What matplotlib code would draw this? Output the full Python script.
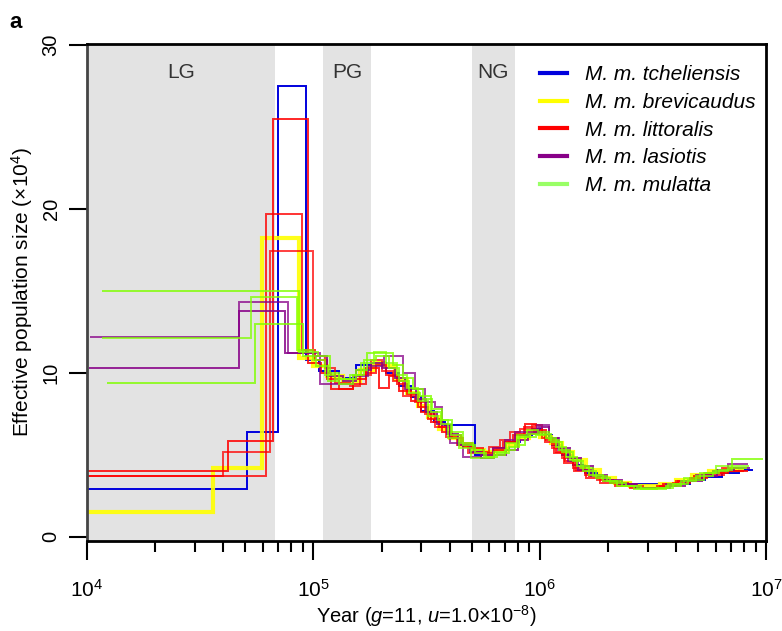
import matplotlib
matplotlib.use("Agg")
from matplotlib import pyplot as plt
from matplotlib.lines import Line2D
from matplotlib.ticker import LogLocator, NullFormatter
import numpy as np

plt.rcParams['font.family'] = ['Liberation Sans', 'DejaVu Sans']
plt.rcParams['mathtext.fontset'] = 'custom'
plt.rcParams['mathtext.rm'] = 'Liberation Sans'
plt.rcParams['mathtext.it'] = 'Liberation Sans:italic'

# PSMC step curves: edges (years) and Ne (x10^4) per interval
bl_t = [5e3, 5.1e4, 7.0e4, 9.3e4, 1.06e5, 1.3e5, 1.55e5, 1.85e5, 2.1e5, 2.4e5,
        2.7e5, 3.0e5, 3.4e5, 3.8e5, 5.2e5, 5.8e5, 6.5e5, 7.3e5, 8.2e5, 9.2e5,
        1.02e6, 1.13e6, 1.26e6, 1.4e6, 1.58e6, 1.8e6, 2.05e6, 2.4e6, 2.8e6, 3.3e6,
        3.9e6, 4.6e6, 5.4e6, 6.4e6, 7.6e6, 8.8e6]
bl_ne = [2.9, 6.4, 27.5, 10.8, 10.1, 9.7, 10.5, 10.6, 10.0, 9.2,
         8.5, 7.7, 7.0, 6.8, 5.0, 5.2, 5.4, 5.8, 6.2, 6.6,
         6.2, 5.6, 5.0, 4.4, 3.9, 3.6, 3.3, 3.25, 3.2, 3.1,
         3.2, 3.5, 3.65, 3.9, 4.1]

ye_t = [5e3, 3.6e4, 5.9e4, 8.6e4, 1.0e5, 1.15e5, 1.35e5, 1.6e5, 1.85e5, 2.05e5,
        2.3e5, 2.6e5, 2.9e5, 3.2e5, 3.6e5, 4.0e5, 4.5e5, 5.0e5, 5.7e5, 6.4e5,
        7.2e5, 8.0e5, 9.0e5, 1.0e6, 1.12e6, 1.25e6, 1.4e6, 1.6e6, 1.85e6, 2.15e6,
        2.5e6, 2.9e6, 3.4e6, 4.0e6, 4.7e6, 5.6e6, 6.6e6, 8.0e6]
ye_ne = [1.5, 4.2, 18.2, 10.9, 10.4, 9.8, 9.5, 10.2, 10.6, 10.4,
         9.6, 8.8, 8.0, 7.3, 6.6, 6.0, 5.6, 5.3, 5.2, 5.3,
         5.6, 6.0, 6.4, 6.1, 5.7, 5.2, 4.7, 4.1, 3.6, 3.3,
         3.1, 3.1, 3.2, 3.5, 3.8, 4.0, 4.1]

ra_t = [5e3, 4.2e4, 6.6e4, 9.5e4, 1.08e5, 1.2e5, 1.5e5, 1.7e5, 1.95e5, 2.15e5,
        2.4e5, 2.7e5, 3.0e5, 3.3e5, 3.7e5, 4.1e5, 4.6e5, 5.1e5, 5.7e5, 6.3e5,
        7.0e5, 7.8e5, 8.6e5, 9.6e5, 1.07e6, 1.18e6, 1.3e6, 1.45e6, 1.65e6, 1.9e6,
        2.2e6, 2.6e6, 3.0e6, 3.5e6, 4.1e6, 4.8e6, 5.7e6, 6.8e6, 8.3e6]
ra_ne = [4.0, 5.85, 25.5, 10.6, 10.0, 9.0, 9.6, 10.3, 9.1, 9.8,
         8.9, 8.3, 7.6, 7.0, 6.4, 6.0, 5.5, 5.2, 5.0, 5.3,
         5.8, 6.3, 6.9, 6.5, 5.9, 5.2, 4.6, 4.1, 3.7, 3.4,
         3.2, 3.0, 3.0, 3.2, 3.4, 3.7, 3.9, 4.0]

rb_t = [5e3, 4.0e4, 6.4e4, 1.0e5, 1.12e5, 1.25e5, 1.45e5, 1.6e5, 1.8e5, 2.0e5,
        2.25e5, 2.5e5, 2.8e5, 3.1e5, 3.45e5, 3.85e5, 4.3e5, 4.8e5, 5.4e5, 6.0e5,
        6.7e5, 7.4e5, 8.2e5, 9.2e5, 1.02e6, 1.13e6, 1.25e6, 1.4e6, 1.58e6, 1.8e6,
        2.1e6, 2.45e6, 2.85e6, 3.3e6, 3.9e6, 4.6e6, 5.4e6, 6.4e6, 7.6e6]
rb_ne = [3.7, 5.2, 17.4, 11.0, 10.3, 9.4, 9.2, 9.9, 10.8, 10.1,
         9.5, 8.6, 8.2, 7.5, 6.7, 6.1, 5.6, 5.1, 5.2, 5.5,
         5.9, 6.4, 6.6, 6.8, 6.0, 5.4, 4.8, 4.2, 3.8, 3.5,
         3.3, 3.1, 3.0, 3.1, 3.3, 3.6, 3.9, 4.2]

rc_t = [5e3, 6.2e4, 8.9e4, 1.02e5, 1.15e5, 1.3e5, 1.5e5, 1.7e5, 1.9e5, 2.1e5,
        2.35e5, 2.6e5, 2.9e5, 3.2e5, 3.6e5, 4.0e5, 4.5e5, 5.0e5, 5.6e5, 6.2e5,
        6.9e5, 7.6e5, 8.5e5, 9.4e5, 1.05e6, 1.16e6, 1.28e6, 1.42e6, 1.6e6, 1.85e6,
        2.15e6, 2.5e6, 2.9e6, 3.4e6, 4.0e6, 4.7e6, 5.5e6, 6.5e6, 8.0e6]
rc_ne = [3.7, 19.7, 11.4, 10.8, 9.6, 9.0, 9.3, 10.0, 10.5, 9.9,
         9.3, 8.7, 7.9, 7.2, 6.7, 6.2, 5.7, 5.4, 5.1, 5.4,
         5.8, 6.2, 6.7, 6.4, 5.8, 5.1, 4.5, 4.0, 3.6, 3.3,
         3.1, 3.0, 3.0, 3.1, 3.4, 3.6, 3.8, 4.0]

pa_t = [1.03e4, 4.7e4, 7.7e4, 1.07e5, 1.5e5, 1.75e5, 2.05e5, 2.5e5, 2.8e5, 3.1e5,
        3.45e5, 3.7e5, 4.0e5, 4.6e5, 5.5e5, 6.2e5, 7.0e5, 7.8e5, 8.7e5, 9.7e5,
        1.1e6, 1.2e6, 1.33e6, 1.48e6, 1.68e6, 1.95e6, 2.25e6, 2.65e6, 3.1e6, 3.6e6,
        4.2e6, 4.9e6, 5.8e6, 6.8e6, 8.3e6]
pa_ne = [12.2, 14.3, 11.2, 9.3, 9.8, 10.4, 11.0, 10.0, 9.0, 8.2,
         7.9, 6.8, 5.7, 4.9, 5.0, 5.4, 5.9, 6.4, 6.4, 6.8,
         6.0, 5.3, 4.6, 4.1, 3.7, 3.4, 3.2, 3.0, 3.0, 3.2,
         3.4, 3.8, 4.0, 4.45]

pb_t = [1.02e4, 4.7e4, 7.5e4, 1.0e5, 1.15e5, 1.35e5, 1.55e5, 1.8e5, 2.0e5, 2.3e5,
        2.55e5, 2.85e5, 3.15e5, 3.5e5, 3.9e5, 4.35e5, 4.9e5, 5.5e5, 6.3e5, 7.1e5,
        8.0e5, 8.9e5, 9.9e5, 1.1e6, 1.22e6, 1.36e6, 1.52e6, 1.72e6, 1.98e6, 2.3e6,
        2.7e6, 3.2e6, 3.75e6, 4.4e6, 5.2e6, 6.1e6, 7.2e6, 8.5e6]
pb_ne = [10.3, 13.8, 11.2, 11.0, 9.8, 9.5, 10.2, 10.6, 10.3, 9.7,
         9.0, 8.4, 7.6, 6.9, 6.3, 5.6, 5.2, 4.8, 5.0, 5.3,
         5.9, 6.3, 6.7, 6.0, 5.4, 4.8, 4.3, 3.8, 3.5, 3.2,
         3.0, 3.0, 3.1, 3.4, 3.7, 4.1, 4.2]

ga_t = [1.16e4, 8.6e4, 1.05e5, 1.18e5, 1.3e5, 1.55e5, 1.72e5, 2.25e5, 2.5e5, 2.75e5,
        3.05e5, 3.35e5, 3.7e5, 4.1e5, 4.6e5, 5.2e5, 5.8e5, 6.5e5, 7.3e5, 8.1e5,
        9.0e5, 1.0e6, 1.12e6, 1.25e6, 1.4e6, 1.56e6, 1.78e6, 2.05e6, 2.4e6, 2.8e6,
        3.3e6, 3.9e6, 4.5e6, 5.3e6, 6.2e6, 7.1e6, 9.7e6]
ga_ne = [15.0, 11.3, 11.0, 10.0, 9.6, 10.2, 11.2, 10.5, 9.7, 9.0,
         8.4, 7.8, 7.1, 6.4, 5.6, 5.1, 4.9, 5.1, 5.5, 6.1,
         6.3, 6.3, 5.8, 5.2, 4.6, 4.0, 3.6, 3.3, 3.1, 2.95,
         3.0, 3.2, 3.5, 3.9, 4.1, 4.75]

gb_t = [1.16e4, 5.3e4, 8.5e4, 1.0e5, 1.12e5, 1.25e5, 1.45e5, 1.62e5, 1.85e5, 2.1e5,
        2.35e5, 2.6e5, 2.9e5, 3.2e5, 3.55e5, 3.95e5, 4.4e5, 4.95e5, 5.6e5, 6.3e5,
        7.1e5, 7.9e5, 8.8e5, 9.8e5, 1.1e6, 1.22e6, 1.36e6, 1.52e6, 1.72e6, 1.98e6,
        2.3e6, 2.7e6, 3.15e6, 3.7e6, 4.35e6, 5.1e6, 6.0e6, 7.0e6, 8.4e6]
gb_ne = [12.1, 14.6, 11.4, 10.8, 9.9, 9.6, 9.9, 10.6, 11.3, 10.6,
         9.9, 9.1, 8.3, 7.4, 7.1, 6.0, 5.4, 4.8, 4.8, 5.2,
         5.7, 6.2, 6.5, 6.4, 5.9, 5.3, 4.7, 4.2, 3.7, 3.4,
         3.1, 3.0, 3.0, 3.2, 3.6, 3.9, 4.3, 4.3]

gc_t = [1.23e4, 5.5e4, 9.0e4, 1.03e5, 1.16e5, 1.3e5, 1.5e5, 1.68e5, 1.9e5, 2.15e5,
        2.4e5, 2.65e5, 2.95e5, 3.3e5, 3.65e5, 4.05e5, 4.5e5, 5.05e5, 5.65e5, 6.3e5,
        7.0e5, 7.8e5, 8.6e5, 9.6e5, 1.07e6, 1.18e6, 1.31e6, 1.46e6, 1.65e6, 1.9e6,
        2.2e6, 2.6e6, 3.05e6, 3.6e6, 4.2e6, 4.9e6, 5.8e6, 6.8e6, 8.2e6]
gc_ne = [9.4, 13.0, 11.0, 10.4, 9.5, 9.3, 9.9, 10.8, 11.0, 10.3,
         9.5, 8.8, 8.6, 7.6, 6.9, 6.2, 5.7, 5.3, 4.9, 5.0,
         5.3, 5.6, 6.1, 6.2, 6.0, 5.5, 4.9, 4.3, 3.8, 3.4,
         3.1, 2.95, 2.95, 3.1, 3.4, 3.7, 4.0, 4.2]

subspecies = ['M. m. tcheliensis', 'M. m. brevicaudus', 'M. m. littoralis',
              'M. m. lasiotis', 'M. m. mulatta']
colors = ['#0000dd', '#ffff00', '#ff0000', '#880088', '#80ff00']
legend_colors = ['#0000dd', '#ffff00', '#ff0000', '#880088', '#99ff66']

# glacial periods (years)
periods = ['LG', 'PG', 'NG']
period_start = [1e4, 1.1e5, 5.0e5]
period_end = [6.8e4, 1.8e5, 7.8e5]

fig = plt.figure(figsize=(7.82, 6.31), dpi=100)
ax = fig.add_axes([0.1113, 0.1426, 0.8683, 0.7877])

for s, e, name in zip(period_start, period_end, periods):
    ax.axvspan(s, e, color='#e3e3e3', lw=0, zorder=0)
    ax.text(np.sqrt(s * e), 28.3, name, ha='center', va='center',
            fontsize=15, color='#333333')

lines = [
    (bl_t, bl_ne, 0, 1.4, 1.0),
    (ye_t, ye_ne, 1, 3.0, 0.9),
    (ra_t, ra_ne, 2, 1.4, 0.85),
    (rb_t, rb_ne, 2, 1.4, 0.75),
    (rc_t, rc_ne, 2, 1.4, 0.8),
    (pa_t, pa_ne, 3, 1.4, 0.75),
    (pb_t, pb_ne, 3, 1.4, 0.85),
    (ga_t, ga_ne, 4, 1.4, 0.8),
    (gb_t, gb_ne, 4, 1.4, 0.75),
    (gc_t, gc_ne, 4, 1.4, 0.8),
]
for t, ne, ci, lw, a in lines:
    ax.stairs(ne, t, baseline=None, color=colors[ci], lw=lw, alpha=a, zorder=2)

ax.set_xscale('log')
ax.set_xlim(1e4, 1e7)
ax.set_ylim(-0.25, 30.05)
ax.set_yticks([0, 10, 20, 30])
ax.xaxis.set_major_locator(LogLocator(base=10, numticks=10))
ax.xaxis.set_minor_locator(LogLocator(base=10, subs=np.arange(2, 10), numticks=20))
ax.xaxis.set_minor_formatter(NullFormatter())

for sp in ax.spines.values():
    sp.set_linewidth(2.0)
    sp.set_color('black')
ax.spines['left'].set_color('#444444')

ax.tick_params(axis='x', which='major', direction='out', length=14, width=1.5,
               labelsize=15, pad=13)
ax.tick_params(axis='x', which='minor', direction='out', length=8, width=1.5)
ax.tick_params(axis='y', which='major', direction='out', length=13, width=1.5,
               labelsize=14.5, pad=6)
plt.setp(ax.get_yticklabels(), rotation=90, va='center')

ax.set_xlabel('Year ($\\it{g}$=11, $\\it{u}$=1.0×10$^{-8}$)', fontsize=14.5, labelpad=2)
ax.set_ylabel('Effective population size (×10$^{4}$)', fontsize=15, labelpad=5)

handles = [Line2D([0], [0], color=c, lw=3) for c in legend_colors]
ax.legend(handles, subspecies, loc='upper left', bbox_to_anchor=(0.64, 0.995),
          frameon=False, handlelength=1.3, handletextpad=0.85, labelspacing=0.42,
          prop={'style': 'italic', 'size': 15})

fig.text(0.012, 0.965, 'a', fontsize=16, fontweight='bold', va='center')

fig.savefig('out.png', dpi=100)
